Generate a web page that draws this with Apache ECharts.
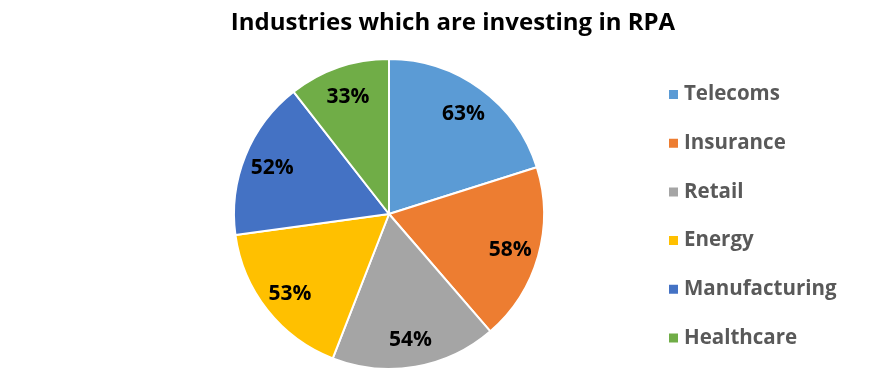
<!DOCTYPE html>
<html>
<head>
<meta charset="utf-8">
<script src="https://cdn.jsdelivr.net/npm/echarts@6/dist/echarts.min.js"></script>
<style>html,body{margin:0;padding:0;background:#fff}#c{width:890px;height:371px}</style>
</head>
<body>
<div id="c"></div>
<script>
const categories = ["Telecoms", "Insurance", "Retail", "Energy", "Manufacturing", "Healthcare"];
const values = [63, 58, 54, 53, 52, 33];
const colors = ["#5B9BD5", "#ED7D31", "#A5A5A5", "#FFC000", "#4472C4", "#70AD47"];
const titleText = "Industries which are investing in RPA";

const data = categories.map((c, i) => ({ name: c, value: values[i], itemStyle: { color: colors[i] } }));
const chart = echarts.init(document.getElementById('c'), null, { renderer: 'canvas' });
chart.setOption({
  animation: false,
  title: {
    text: titleText, left: 448, top: 6, textAlign: 'center',
    textStyle: { fontFamily: 'Open Sans', fontWeight: 'bold', fontSize: 24, color: '#000' }
  },
  legend: {
    orient: 'vertical', left: 662, top: 79,
    icon: 'rect', itemWidth: 11, itemHeight: 11, itemGap: 27.7,
    textStyle: { fontFamily: 'Open Sans', fontWeight: 'bold', fontSize: 20.5, color: '#595959', lineHeight: 20, padding: [0,0,0,0] },
    data: categories
  },
  series: [
    {
      type: 'pie', center: [389, 214], radius: [0, 155], startAngle: 90, clockwise: true,
      data: data,
      itemStyle: { borderColor: '#fff', borderWidth: 2 },
      label: { show: false }, labelLine: { show: false }, emphasis: { disabled: true }
    },
    {
      type: 'pie', center: [389, 214], radius: [91, 155], startAngle: 90, clockwise: true,
      silent: true, legendHoverLink: false,
      data: categories.map((c, i) => ({ name: c, value: values[i], itemStyle: { color: 'rgba(0,0,0,0)' } })),
      itemStyle: { borderWidth: 0 },
      label: { show: true, position: 'inside', offset: [0, 2], formatter: '{c}%', fontFamily: 'Open Sans', fontWeight: 'bold', fontSize: 21, color: '#000' },
      labelLine: { show: false }, emphasis: { disabled: true }
    }
  ]
});
</script>
</body>
</html>
